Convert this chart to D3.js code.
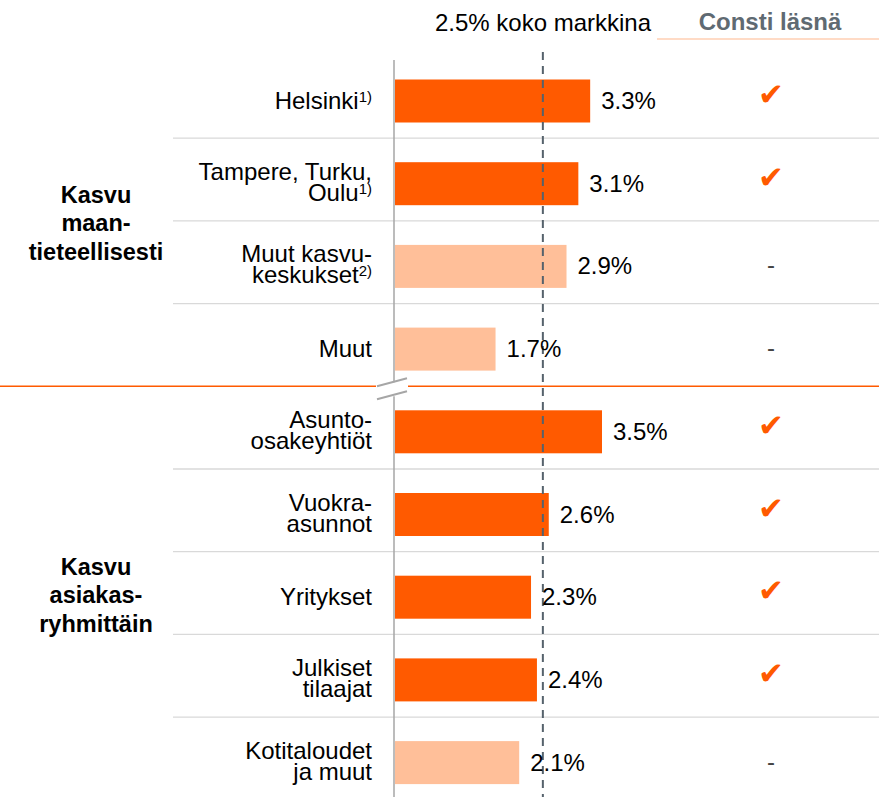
<!DOCTYPE html>
<html>
<head>
<meta charset="utf-8">
<script src="https://cdn.jsdelivr.net/npm/d3@7"></script>
<style>
  body { margin: 0; background: #fff; }
  text { font-family: "Liberation Sans", Arial, Helvetica, sans-serif; }
</style>
</head>
<body>
<div id="chart"></div>
<script>
// rivit (ylhäältä alas)
const categories = ['Helsinki', 'Tampere, Turku, Oulu', 'Muut kasvukeskukset', 'Muut',
    'Asunto-osakeyhtiöt', 'Vuokra-asunnot', 'Yritykset', 'Julkiset tilaajat', 'Kotitaloudet ja muut'];
const labelLines = [['Helsinki'], ['Tampere, Turku,', 'Oulu'], ['Muut kasvu-', 'keskukset'], ['Muut'],
    ['Asunto-', 'osakeyhtiöt'], ['Vuokra-', 'asunnot'], ['Yritykset'], ['Julkiset', 'tilaajat'], ['Kotitaloudet', 'ja muut']];
const footnotes = ['1)', '1)', '2)', '', '', '', '', '', ''];
const growth = [3.3, 3.1, 2.9, 1.7, 3.5, 2.6, 2.3, 2.4, 2.1];
const constiPresent = [true, true, false, false, true, true, true, true, false];
const groups = [
    {lines: ['Kasvu', 'maan-', 'tieteellisesti'], from: 0, to: 3},
    {lines: ['Kasvu', 'asiakas-', 'ryhmittäin'], from: 4, to: 8}
];
const marketGrowth = 2.5;
const marketLabel = '2.5% koko markkina';
const presentLabel = 'Consti läsnä';

const width = 879, height = 797;
const orange = '#ff5a00', lightOrange = '#ffbf99';

const svg = d3.select('#chart').append('svg')
    .attr('width', width).attr('height', height);

const x = d3.scaleLinear().domain([0, 3.5]).range([395, 602]);
const y = d3.scaleBand().domain(categories).range([55.5, 55.5 + 82.7 * categories.length]);
const barH = 43;
const barTop = d => y(d) + 24;
const center = d => barTop(d) + barH / 2;
const axisX = 394;

// rivien erotinviivat
categories.forEach((c, i) => {
    if (i === 0 || i === 4) return;
    svg.append('line')
        .attr('x1', 173).attr('x2', width)
        .attr('y1', y(c)).attr('y2', y(c))
        .attr('stroke', '#d9d9d9').attr('stroke-width', 1.3);
});

// ryhmien välinen oranssi viiva (katkaistu akselin kohdalta)
const gy = y(categories[4]);
svg.append('line').attr('x1', 0).attr('x2', 376).attr('y1', gy).attr('y2', gy)
    .attr('stroke', orange).attr('stroke-width', 1.5);
svg.append('line').attr('x1', 408).attr('x2', width).attr('y1', gy).attr('y2', gy)
    .attr('stroke', orange).attr('stroke-width', 1.5);

// pystyakseli
svg.append('line').attr('x1', axisX).attr('x2', axisX).attr('y1', 60).attr('y2', gy - 4)
    .attr('stroke', '#a6a6a6').attr('stroke-width', 1.5);
svg.append('line').attr('x1', axisX).attr('x2', axisX).attr('y1', gy + 10).attr('y2', height)
    .attr('stroke', '#a6a6a6').attr('stroke-width', 1.5);
// katkomerkit
[[0, -8], [13, 5]].forEach(([a, b]) => {
    svg.append('line')
        .attr('x1', 377).attr('y1', gy + a)
        .attr('x2', 407).attr('y2', gy + b)
        .attr('stroke', '#a6a6a6').attr('stroke-width', 2);
});

// palkit
svg.selectAll('rect.bar')
    .data(categories)
    .join('rect')
    .attr('class', 'bar')
    .attr('x', x(0))
    .attr('y', d => barTop(d))
    .attr('width', (d, i) => x(growth[i]) - x(0))
    .attr('height', barH)
    .attr('fill', (d, i) => constiPresent[i] ? orange : lightOrange);

// markkinan keskiarvo
svg.append('line')
    .attr('x1', x(marketGrowth)).attr('x2', x(marketGrowth))
    .attr('y1', 52).attr('y2', height)
    .attr('stroke', '#56626c').attr('stroke-width', 2)
    .attr('stroke-dasharray', '8,6');

// arvot
svg.selectAll('text.value')
    .data(categories)
    .join('text')
    .attr('class', 'value')
    .attr('x', (d, i) => x(growth[i]) + 11)
    .attr('y', d => center(d) + 8)
    .attr('font-size', 24)
    .attr('fill', '#000')
    .text((d, i) => d3.format('.1f')(growth[i]) + '%');

// rivien nimet
categories.forEach((c, i) => {
    const lines = labelLines[i];
    const first = lines.length === 1 ? center(c) + 8 : center(c) - 4;
    lines.forEach((ln, j) => {
        const t = svg.append('text')
            .attr('x', 372)
            .attr('y', first + j * 21)
            .attr('text-anchor', 'end')
            .attr('font-size', 24)
            .attr('fill', '#000');
        t.append('tspan').text(ln);
        if (j === lines.length - 1 && footnotes[i]) {
            t.append('tspan')
                .attr('font-size', 15)
                .attr('dy', -7)
                .text(footnotes[i]);
        }
    });
});

// ryhmien otsikot
groups.forEach(g => {
    const mid = (center(categories[g.from]) + center(categories[g.to])) / 2 + 6;
    g.lines.forEach((ln, j) => {
        svg.append('text')
            .attr('x', 96)
            .attr('y', mid + (j - 1) * 28.5)
            .attr('text-anchor', 'middle')
            .attr('font-size', 23.5)
            .attr('font-weight', 'bold')
            .attr('fill', '#000')
            .text(ln);
    });
});

// Consti läsnä -sarake
svg.selectAll('text.mark')
    .data(categories)
    .join('text')
    .attr('class', 'mark')
    .attr('x', 771)
    .attr('y', (d, i) => constiPresent[i] ? center(d) + 4 : center(d) + 7)
    .attr('text-anchor', 'middle')
    .attr('font-size', (d, i) => constiPresent[i] ? 31 : 24)
    .style('font-family', (d, i) => constiPresent[i] ? '"DejaVu Sans", sans-serif' : null)
    .attr('fill', (d, i) => constiPresent[i] ? orange : '#444')
    .text((d, i) => constiPresent[i] ? '✔' : '-');

// otsikot
svg.append('text')
    .attr('x', 543).attr('y', 31)
    .attr('text-anchor', 'middle')
    .attr('font-size', 24)
    .attr('fill', '#000')
    .text(marketLabel);
svg.append('text')
    .attr('x', 770).attr('y', 30)
    .attr('text-anchor', 'middle')
    .attr('font-size', 24)
    .attr('font-weight', 'bold')
    .attr('fill', '#5f6a72')
    .text(presentLabel);
svg.append('line')
    .attr('x1', 657).attr('x2', width)
    .attr('y1', 39).attr('y2', 39)
    .attr('stroke', '#ffcfb3').attr('stroke-width', 1.5);
</script>
</body>
</html>
